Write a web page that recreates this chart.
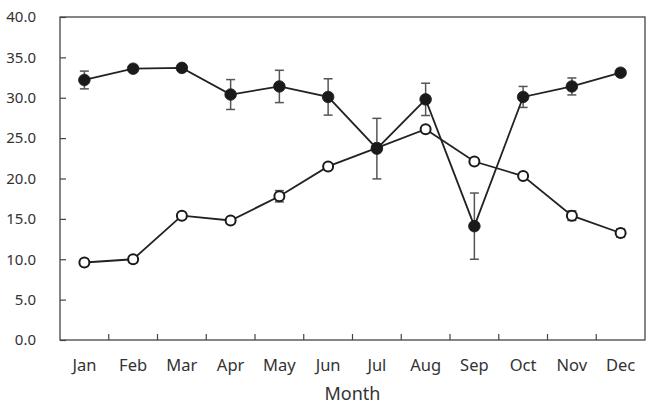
<!DOCTYPE html>
<html>
<head>
<meta charset="utf-8">
<script src="https://cdn.jsdelivr.net/npm/d3@7"></script>
<style>
  body { margin: 0; background: #fff; }
  svg text { font-family: "Noto Sans", "Open Sans", sans-serif; fill: #333; }
</style>
</head>
<body>
<div id="chart"></div>
<script>
// Monthly values
const months = ["Jan", "Feb", "Mar", "Apr", "May", "Jun", "Jul", "Aug", "Sep", "Oct", "Nov", "Dec"];
const filledMean = [32.2, 33.6, 33.7, 30.4, 31.4, 30.1, 23.7, 29.8, 14.1, 30.1, 31.4, 33.1];
const filledErr = [1.1, 0.3, 0.3, 1.85, 2.0, 2.25, 3.75, 2.0, 4.1, 1.3, 1.05, 0.4];
const openMean = [9.6, 10.0, 15.4, 14.8, 17.8, 21.5, 23.8, 26.1, 22.1, 20.3, 15.4, 13.25];
const openErr = [0.4, 0.4, 0.4, 0.3, 0.7, 0.3, 0.3, 0.3, 0.3, 0.3, 0.6, 0.5];
const yTicks = [0, 5, 10, 15, 20, 25, 30, 35, 40];

const width = 664;
const height = 404;
const margin = { top: 17, right: 19, bottom: 64, left: 60 };

const svg = d3
  .select("#chart")
  .append("svg")
  .attr("width", width)
  .attr("height", height);

const x = d3
  .scaleBand()
  .domain(months)
  .range([margin.left, width - margin.right]);

const y = d3
  .scaleLinear()
  .domain([0, 40])
  .range([height - margin.bottom, margin.top]);

// frame
svg
  .append("rect")
  .attr("x", margin.left)
  .attr("y", margin.top)
  .attr("width", width - margin.left - margin.right)
  .attr("height", height - margin.top - margin.bottom)
  .attr("fill", "none")
  .attr("stroke", "#444")
  .attr("stroke-width", 1.3);

// y axis, ticks pointing inward
const yAxis = svg
  .append("g")
  .attr("transform", `translate(${margin.left},0)`)
  .call(
    d3
      .axisLeft(y)
      .tickValues(yTicks)
      .tickSize(-6)
      .tickPadding(24)
      .tickFormat(d3.format(".1f"))
  );
yAxis.select(".domain").remove();
yAxis.selectAll("line").attr("stroke", "#444").attr("stroke-width", 1.2);
yAxis.selectAll("text").attr("font-size", 15).style("fill", "#333");

// x axis: ticks between categories, pointing inward
const xBottom = height - margin.bottom;
svg
  .append("g")
  .selectAll("line")
  .data(months.slice(1))
  .join("line")
  .attr("x1", (d) => x(d))
  .attr("x2", (d) => x(d))
  .attr("y1", xBottom)
  .attr("y2", xBottom - 6)
  .attr("stroke", "#444")
  .attr("stroke-width", 1.2);

svg
  .append("g")
  .selectAll("text")
  .data(months)
  .join("text")
  .attr("x", (d) => x(d) + x.bandwidth() / 2)
  .attr("y", xBottom + 31)
  .attr("text-anchor", "middle")
  .attr("font-size", 16.5)
  .text((d) => d);

svg
  .append("text")
  .attr("x", (margin.left + width - margin.right) / 2)
  .attr("y", height - 4)
  .attr("text-anchor", "middle")
  .attr("font-size", 18)
  .text("Month");

const cx = (i) => x(months[i]) + x.bandwidth() / 2;

function drawSeries(means, errs, filled) {
  const g = svg.append("g");

  // error bars
  means.forEach((m, i) => {
    const top = y(m + errs[i]);
    const bot = y(m - errs[i]);
    g.append("line")
      .attr("x1", cx(i))
      .attr("x2", cx(i))
      .attr("y1", top)
      .attr("y2", bot)
      .attr("stroke", "#555")
      .attr("stroke-width", 1.5);
    [top, bot].forEach((yy) => {
      g.append("line")
        .attr("x1", cx(i) - 4.5)
        .attr("x2", cx(i) + 4.5)
        .attr("y1", yy)
        .attr("y2", yy)
        .attr("stroke", "#555")
        .attr("stroke-width", 1.5);
    });
  });

  const line = d3
    .line()
    .x((d, i) => cx(i))
    .y((d) => y(d));

  g.append("path")
    .datum(means)
    .attr("d", line)
    .attr("fill", "none")
    .attr("stroke", "#222")
    .attr("stroke-width", 1.8);

  g.selectAll("circle")
    .data(means)
    .join("circle")
    .attr("cx", (d, i) => cx(i))
    .attr("cy", (d) => y(d))
    .attr("r", filled ? 5.8 : 5)
    .attr("fill", filled ? "#1a1a1a" : "#fff")
    .attr("stroke", "#1a1a1a")
    .attr("stroke-width", filled ? 0.8 : 2);
}

drawSeries(openMean, openErr, false);
drawSeries(filledMean, filledErr, true);
</script>
</body>
</html>
